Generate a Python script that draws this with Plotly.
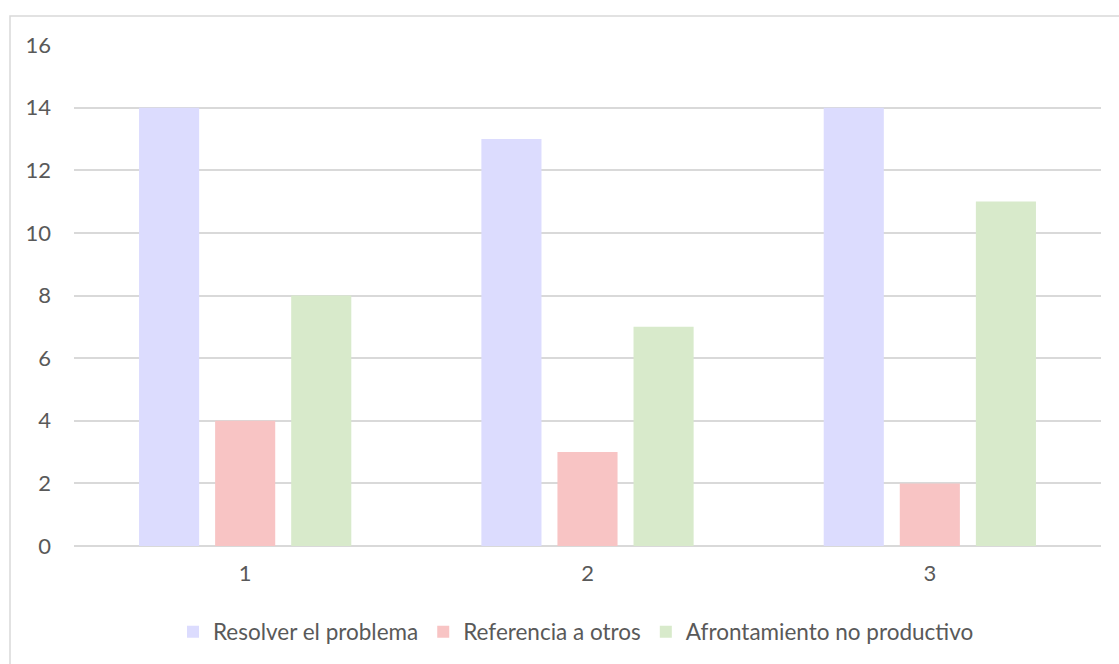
import plotly.graph_objects as go

categories = ["1", "2", "3"]
series_names = ["Resolver el problema", "Referencia a otros", "Afrontamiento no productivo"]
resolver = [14, 13, 14]
referencia = [4, 3, 2]
afrontamiento = [8, 7, 11]
y_ticks = [0, 2, 4, 6, 8, 10, 12, 14, 16]

colors = ["#DCDCFE", "#F8C4C4", "#D8EACB"]
values = [resolver, referencia, afrontamiento]

W, H = 1119, 664
L, R, T, B = 74, 18, 45, 117
pw = W - L - R
ph = H - T - B

fig = go.Figure()
for name, vals, c in zip(series_names, values, colors):
    fig.add_trace(go.Bar(x=categories, y=vals, name=name, marker=dict(color=c, line=dict(width=0))))

font = dict(family="Lato, Noto Sans, sans-serif", size=22, color="#595959")
lfont = dict(family="Lato, Noto Sans, sans-serif", size=22.5, color="#595959")

def px_x(p):
    return (p - L) / pw

def px_y(p):
    return (H - B - p) / ph

fig.update_layout(
    width=W, height=H,
    margin=dict(l=L, r=R, t=T, b=B),
    paper_bgcolor="white", plot_bgcolor="white",
    barmode="group", bargap=0.3333, bargroupgap=0.21,
    font=font,
    showlegend=True,
    legend=dict(orientation="h", x=px_x(576), xanchor="center", y=px_y(632), yanchor="middle",
                font=lfont, itemwidth=30, traceorder="normal"),
    xaxis=dict(type="category", showgrid=False, showline=False, ticks="", tickfont=font,
               ticklabelstandoff=12),
    yaxis=dict(range=[0, 16], tickvals=y_ticks, showgrid=True, gridcolor="#D9D9D9", gridwidth=1.5,
               zeroline=True, zerolinecolor="#D9D9D9", zerolinewidth=1.5, showline=False,
               ticks="", tickfont=font, ticklabelstandoff=22),
    shapes=[dict(type="rect", xref="paper", yref="paper",
                 x0=px_x(10), x1=px_x(1130), y0=px_y(675), y1=px_y(16),
                 line=dict(color="#D9D9D9", width=1.5), fillcolor="rgba(0,0,0,0)", layer="below")],
)

fig.write_html("out.html")
